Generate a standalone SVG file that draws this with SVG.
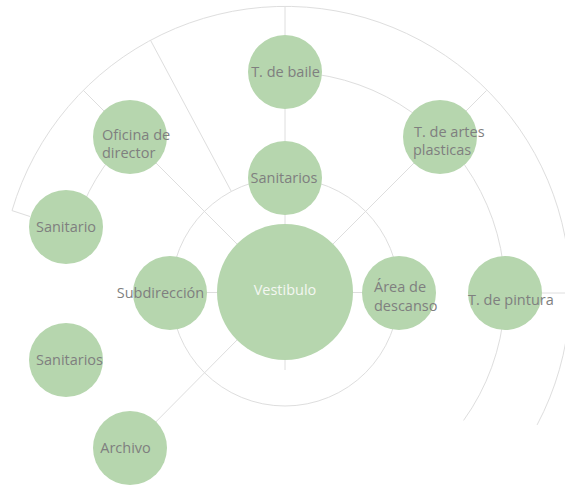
<svg xmlns="http://www.w3.org/2000/svg" width="565" height="487" viewBox="0 0 565 487">
<style>
.c{fill:#b6d6ae;}
.l{fill:none;stroke:#dedede;stroke-width:1;}
.t{font-family:"Open Sans","Liberation Sans",sans-serif;font-size:14.5px;fill:#7f7f7f;}
.m{text-anchor:middle;}
.w{fill:#f4f7f2;}
</style>
<rect width="565" height="487" fill="#ffffff"/>
<g id="connectors">
<path class="l" d="M 12 210.6 A 285 285 0 1 1 537.1 424.9"/>
<path class="l" d="M 285 72 A 220 220 0 0 1 463.6 420.4"/>
<path class="l" d="M 129.4 136.4 A 220 220 0 0 0 74 229.5"/>
<circle class="l" cx="285" cy="292" r="114"/>
<line class="l" x1="285" y1="7" x2="285" y2="225"/>
<line class="l" x1="285" y1="359" x2="285" y2="370"/>
<line class="l" x1="205" y1="292.5" x2="219" y2="292.5"/>
<line class="l" x1="351" y1="292.5" x2="364" y2="292.5"/>
<line class="l" x1="540" y1="293" x2="565" y2="293"/>
<line class="l" x1="83.5" y1="90.5" x2="238" y2="245"/>
<line class="l" x1="486.5" y1="90.5" x2="332" y2="245"/>
<line class="l" x1="238" y1="339" x2="130" y2="448"/>
<line class="l" x1="150.7" y1="40.6" x2="231.3" y2="191.4"/>
<line class="l" x1="12" y1="210.6" x2="30" y2="216.5"/>
</g>
<g id="vestibulo"><circle class="c" cx="285" cy="292" r="68"/><text class="t m w" x="285" y="295">Vestibulo</text></g>
<g id="t-baile"><circle class="c" cx="285" cy="72" r="37"/><text class="t m" x="285.5" y="77">T. de baile</text></g>
<g id="sanitarios-top"><circle class="c" cx="285" cy="178" r="37"/><text class="t m" x="284" y="183">Sanitarios</text></g>
<g id="oficina"><circle class="c" cx="130" cy="137" r="37"/><text class="t" x="102" y="140">Oficina de</text><text class="t" x="102" y="158">director</text></g>
<g id="t-artes"><circle class="c" cx="440" cy="137" r="37"/><text class="t" x="414" y="137">T. de artes</text><text class="t" x="413" y="155">plasticas</text></g>
<g id="sanitario"><circle class="c" cx="66" cy="227" r="37"/><text class="t m" x="66" y="232">Sanitario</text></g>
<g id="subdireccion"><circle class="c" cx="170" cy="293" r="37"/><text class="t m" x="160.5" y="298">Subdirección</text></g>
<g id="area-descanso"><circle class="c" cx="399" cy="293" r="37"/><text class="t" x="374" y="292">Área de</text><text class="t" x="374" y="311">descanso</text></g>
<g id="t-pintura"><circle class="c" cx="505" cy="293" r="37"/><text class="t" x="468" y="305">T. de pintura</text></g>
<g id="sanitarios-low"><circle class="c" cx="66" cy="360" r="37"/><text class="t m" x="69.5" y="365">Sanitarios</text></g>
<g id="archivo"><circle class="c" cx="130" cy="448" r="37"/><text class="t m" x="125.5" y="453">Archivo</text></g>
</svg>
